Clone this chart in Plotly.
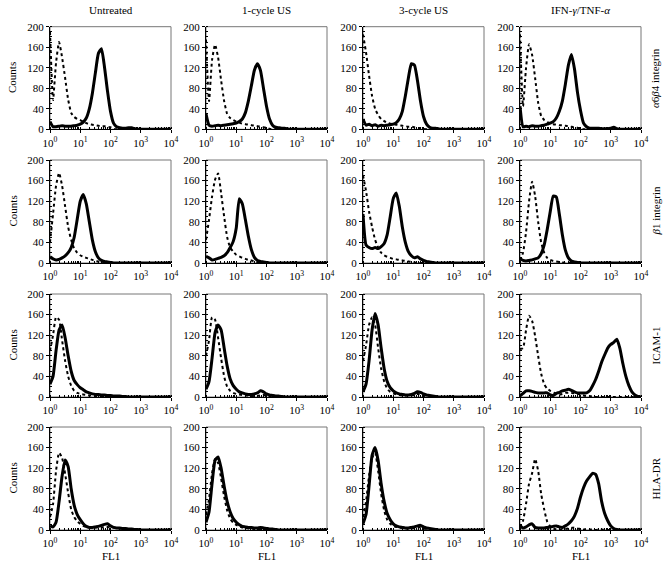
import plotly.graph_objects as go

# FL1 channel bins, as log10 of fluorescence (0 .. 4 decades)
CHANNEL_LOG10 = [0.0, 0.1, 0.2, 0.3, 0.4, 0.5, 0.6, 0.7, 0.8, 0.9,
                 1.0, 1.1, 1.2, 1.3, 1.4, 1.5, 1.6, 1.7, 1.8, 1.9,
                 2.0, 2.1, 2.2, 2.3, 2.4, 2.5, 2.6, 2.7, 2.8, 2.9,
                 3.0, 3.1, 3.2, 3.3, 3.4, 3.5, 3.6, 3.7, 3.8, 3.9, 4.0]

TREATMENTS = ["Untreated", "1-cycle US", "3-cycle US", "IFN-<i>γ</i>/TNF-<i>α</i>"]
MARKERS = ["<i>α</i>6<i>β</i>4 integrin", "<i>β</i>1 integrin", "ICAM-1", "HLA-DR"]
Y_TICKS = [0, 40, 80, 120, 160, 200]
X_TICK_LABELS = ["10<sup>0</sup>", "10<sup>1</sup>", "10<sup>2</sup>", "10<sup>3</sup>", "10<sup>4</sup>"]

# ---- row 1: a6b4 integrin ----
a6b4_untreated_control = [190, 57, 130, 170, 140, 100, 58, 32, 24, 20, 18, 15, 12, 10, 9, 8, 7, 6, 6, 5, 4, 1,
                          0, 0, 0, 0, 0, 0, 0, 0, 0, 0, 0, 0, 0, 0, 0, 0, 0, 0, 0]
a6b4_untreated_stain = [15, 5, 5, 6, 7, 6, 6, 6, 7, 8, 10, 14, 22, 40, 70, 110, 148, 157, 122, 75, 35, 12, 5, 3, 2, 2, 3, 3, 1,
                        0, 0, 0, 0, 0, 0, 0, 0, 0, 0, 0, 0]
a6b4_us1_control = [175, 55, 135, 165, 140, 95, 55, 30, 22, 18, 15, 13, 11, 10, 9, 8, 7, 6, 5, 4, 3, 1,
                    0, 0, 0, 0, 0, 0, 0, 0, 0, 0, 0, 0, 0, 0, 0, 0, 0, 0, 0]
a6b4_us1_stain = [30, 8, 6, 7, 8, 7, 8, 9, 10, 11, 12, 15, 20, 32, 55, 85, 115, 128, 115, 80, 45, 20, 8, 4, 3, 2, 2, 1,
                  0, 0, 0, 0, 0, 0, 0, 0, 0, 0, 0, 0, 0]
a6b4_us3_control = [185, 150, 105, 65, 40, 28, 20, 16, 13, 11, 10, 9, 8, 7, 6, 5, 5, 4, 3, 2, 1,
                    0, 0, 0, 0, 0, 0, 0, 0, 0, 0, 0, 0, 0, 0, 0, 0, 0, 0, 0, 0]
a6b4_us3_stain = [20, 8, 10, 7, 9, 6, 8, 7, 8, 9, 10, 13, 20, 35, 65, 100, 128, 125, 95, 55, 25, 10, 4, 2, 2, 1,
                  0, 0, 0, 0, 0, 0, 0, 0, 0, 0, 0, 0, 0, 0, 0]
a6b4_ifn_control = [185, 45, 120, 166, 145, 100, 52, 26, 18, 14, 12, 10, 9, 8, 8, 7, 6, 5, 4, 3, 2,
                    0, 0, 0, 0, 0, 0, 0, 0, 0, 0, 0, 0, 0, 0, 0, 0, 0, 0, 0, 0]
a6b4_ifn_stain = [45, 5, 6, 5, 7, 6, 6, 7, 8, 10, 12, 15, 22, 35, 55, 88, 125, 146, 118, 72, 37, 12, 5, 2, 2, 2, 2, 1, 1, 1,
                  2, 4, 1, 0, 0, 0, 0, 0, 0, 0, 0]

# ---- row 2: b1 integrin ----
b1_untreated_control = [40, 95, 150, 175, 150, 110, 70, 45, 28, 20, 15, 12, 10, 8, 6, 4, 3, 1,
                        0, 0, 0, 0, 0, 0, 0, 0, 0, 0, 0, 0, 0, 0, 0, 0, 0, 0, 0, 0, 0, 0, 0]
b1_untreated_stain = [12, 8, 6, 7, 10, 14, 20, 30, 50, 85, 120, 133, 115, 80, 45, 22, 10, 5, 3, 2, 1,
                      0, 0, 0, 0, 0, 0, 0, 0, 0, 0, 0, 0, 0, 0, 0, 0, 0, 0, 0, 0]
b1_us1_control = [45, 84, 129, 162, 174, 135, 90, 50, 30, 22, 16, 13, 10, 8, 6, 5, 3, 1,
                  0, 0, 0, 0, 0, 0, 0, 0, 0, 0, 0, 0, 0, 0, 0, 0, 0, 0, 0, 0, 0, 0, 0]
b1_us1_stain = [13, 10, 6, 7, 9, 11, 14, 20, 30, 42, 68, 125, 115, 85, 52, 26, 11, 5, 3, 2, 1,
                0, 0, 0, 0, 0, 0, 0, 0, 0, 0, 0, 0, 0, 0, 0, 0, 0, 0, 0, 0]
b1_us3_control = [170, 140, 100, 70, 45, 30, 20, 15, 12, 10, 8, 7, 6, 5, 4, 3, 2, 1,
                  0, 0, 0, 0, 0, 0, 0, 0, 0, 0, 0, 0, 0, 0, 0, 0, 0, 0, 0, 0, 0, 0, 0]
b1_us3_stain = [95, 35, 30, 28, 30, 28, 32, 38, 55, 90, 125, 136, 110, 70, 40, 22, 14, 10, 12, 8, 5, 3, 2, 1,
                0, 0, 0, 0, 0, 0, 0, 0, 0, 0, 0, 0, 0, 0, 0, 0, 0]
b1_ifn_control = [5, 20, 60, 120, 158, 130, 80, 40, 20, 10, 6, 4, 3, 2, 1,
                  0, 0, 0, 0, 0, 0, 0, 0, 0, 0, 0, 0, 0, 0, 0, 0, 0, 0, 0, 0, 0, 0, 0, 0, 0, 0]
b1_ifn_stain = [8, 5, 4, 5, 6, 8, 10, 18, 35, 65, 100, 130, 128, 95, 55, 25, 10, 4, 2, 1,
                0, 0, 0, 0, 0, 0, 0, 0, 0, 0, 0, 0, 0, 0, 0, 0, 0, 0, 0, 0, 0]

# ---- row 3: ICAM-1 ----
icam_untreated_control = [90, 120, 155, 150, 110, 70, 40, 22, 12, 8, 6, 5, 4, 3, 3, 2, 2, 1,
                          0, 0, 0, 0, 0, 0, 0, 0, 0, 0, 0, 0, 0, 0, 0, 0, 0, 0, 0, 0, 0, 0, 0]
icam_untreated_stain = [25, 40, 90, 130, 140, 115, 80, 50, 32, 24, 18, 14, 10, 8, 6, 5, 5, 4, 4, 3, 3, 2, 2, 2, 1, 1,
                        0, 0, 0, 0, 0, 0, 0, 0, 0, 0, 0, 0, 0, 0, 0]
icam_us1_control = [80, 110, 155, 150, 115, 75, 40, 20, 12, 8, 6, 5, 4, 3, 3, 2, 2, 2, 3, 4, 3, 1,
                    0, 0, 0, 0, 0, 0, 0, 0, 0, 0, 0, 0, 0, 0, 0, 0, 0, 0, 0]
icam_us1_stain = [15, 30, 75, 125, 140, 130, 95, 60, 35, 22, 15, 10, 8, 6, 5, 5, 6, 8, 12, 10, 6, 4, 3, 2, 2, 1,
                  0, 0, 0, 0, 0, 0, 0, 0, 0, 0, 0, 0, 0, 0, 0]
icam_us3_control = [70, 100, 140, 155, 140, 95, 55, 30, 16, 10, 7, 5, 4, 3, 3, 3, 3, 4, 6, 5, 3, 1,
                    0, 0, 0, 0, 0, 0, 0, 0, 0, 0, 0, 0, 0, 0, 0, 0, 0, 0, 0]
icam_us3_stain = [10, 25, 70, 130, 162, 140, 95, 55, 30, 18, 12, 8, 6, 5, 4, 4, 5, 7, 10, 9, 6, 4, 3, 2, 1,
                  0, 0, 0, 0, 0, 0, 0, 0, 0, 0, 0, 0, 0, 0, 0, 0]
icam_ifn_control = [93, 95, 130, 158, 148, 118, 80, 45, 25, 16, 12, 9, 6, 5, 6, 8, 8, 8, 7, 6, 5, 3, 2, 2, 1,
                    0, 0, 0, 0, 0, 0, 0, 0, 0, 0, 0, 0, 0, 0, 0, 0]
icam_ifn_stain = [2, 7, 12, 12, 11, 9, 8, 8, 8, 8, 4, 3, 7, 9, 12, 13, 15, 13, 10, 8, 8, 8, 8, 12, 22, 34, 50, 68, 82, 95,
                  102, 106, 112, 95, 65, 40, 22, 10, 4, 1, 0]

# ---- row 4: HLA-DR ----
hla_untreated_control = [25, 50, 115, 150, 140, 109, 72, 40, 25, 17, 12, 8, 6, 5, 5, 5, 5, 5, 6, 6, 5, 5, 4, 3, 3, 2, 2, 1, 1,
                         0, 0, 0, 0, 0, 0, 0, 0, 0, 0, 0, 0]
hla_untreated_stain = [8, 6, 15, 55, 105, 136, 123, 80, 48, 30, 20, 12, 7, 5, 5, 6, 7, 9, 11, 12, 8, 5, 4, 4, 3, 3, 2, 2, 1, 1,
                       0, 0, 0, 0, 0, 0, 0, 0, 0, 0, 0]
hla_us1_control = [30, 60, 110, 138, 130, 100, 65, 38, 22, 14, 10, 7, 5, 4, 3, 3, 2, 2, 2, 1,
                   0, 0, 0, 0, 0, 0, 0, 0, 0, 0, 0, 0, 0, 0, 0, 0, 0, 0, 0, 0, 0]
hla_us1_stain = [15, 35, 90, 135, 142, 120, 85, 55, 35, 22, 15, 10, 7, 6, 5, 5, 4, 4, 5, 4, 3, 2, 2, 1,
                 0, 0, 0, 0, 0, 0, 0, 0, 0, 0, 0, 0, 0, 0, 0, 0, 0]
hla_us3_control = [25, 55, 105, 140, 150, 115, 70, 38, 20, 12, 8, 6, 5, 4, 3, 3, 3, 4, 5, 5, 3, 2, 1,
                   0, 0, 0, 0, 0, 0, 0, 0, 0, 0, 0, 0, 0, 0, 0, 0, 0, 0]
hla_us3_stain = [12, 30, 85, 145, 160, 135, 90, 55, 32, 20, 12, 8, 6, 5, 4, 4, 5, 6, 8, 9, 6, 4, 3, 2, 1,
                 0, 0, 0, 0, 0, 0, 0, 0, 0, 0, 0, 0, 0, 0, 0, 0]
hla_ifn_control = [5, 18, 51, 90, 110, 138, 115, 70, 40, 16, 7, 3, 1, 0, 1, 2, 3, 4, 5, 3, 2, 1, 2, 1, 1, 0, 1, 1,
                   0, 0, 0, 0, 0, 0, 0, 0, 0, 0, 0, 0, 0]
hla_ifn_stain = [8, 4, 6, 10, 12, 5, 4, 4, 4, 5, 6, 7, 8, 6, 5, 8, 12, 18, 27, 42, 64, 82, 95, 103, 110, 108, 90, 55, 32, 18,
                 8, 3, 1, 0, 0, 0, 0, 0, 0, 0, 0]

CONTROL = [
    [a6b4_untreated_control, a6b4_us1_control, a6b4_us3_control, a6b4_ifn_control],
    [b1_untreated_control, b1_us1_control, b1_us3_control, b1_ifn_control],
    [icam_untreated_control, icam_us1_control, icam_us3_control, icam_ifn_control],
    [hla_untreated_control, hla_us1_control, hla_us3_control, hla_ifn_control],
]
STAIN = [
    [a6b4_untreated_stain, a6b4_us1_stain, a6b4_us3_stain, a6b4_ifn_stain],
    [b1_untreated_stain, b1_us1_stain, b1_us3_stain, b1_ifn_stain],
    [icam_untreated_stain, icam_us1_stain, icam_us3_stain, icam_ifn_stain],
    [hla_untreated_stain, hla_us1_stain, hla_us3_stain, hla_ifn_stain],
]

# ---- layout geometry (pixels) ----
W, H = 668, 568
COL_PX = [(50, 171), (206, 327), (363, 484), (520, 641)]
ROW_PX = [(26.7, 129.3), (160, 263), (294, 397), (427, 530)]
FONT = "Liberation Serif"

def px_x(p):
    return p / W

def px_y(p):
    return 1 - p / H

fl1 = [10 ** v for v in CHANNEL_LOG10]

fig = go.Figure()
layout = dict(width=W, height=H, margin=dict(l=0, r=0, t=0, b=0, pad=0, autoexpand=False),
              paper_bgcolor="white", plot_bgcolor="white", showlegend=False, hovermode=False,
              font=dict(family=FONT, size=11, color="black"))
shapes = []
annotations = []

for r in range(4):
    for c in range(4):
        k = r * 4 + c + 1
        xa = "x" if k == 1 else f"x{k}"
        ya = "y" if k == 1 else f"y{k}"
        fig.add_trace(go.Scatter(x=fl1, y=CONTROL[r][c], mode="lines", xaxis=xa, yaxis=ya,
                                 line=dict(color="black", width=2, dash="dot", shape="spline", smoothing=0.5)))
        fig.add_trace(go.Scatter(x=fl1, y=STAIN[r][c], mode="lines", xaxis=xa, yaxis=ya,
                                 line=dict(color="black", width=3, shape="spline", smoothing=0.5)))
        x0, x1 = COL_PX[c]
        y0, y1 = ROW_PX[r]
        layout["xaxis" if k == 1 else f"xaxis{k}"] = dict(
            domain=[px_x(x0), px_x(x1)], anchor=ya, type="log", range=[0, 4], automargin=False,
            tickvals=[1, 10, 100, 1000, 10000], ticktext=X_TICK_LABELS,
            ticks="outside", ticklen=3, tickcolor="black",
            minor=dict(ticks="inside", ticklen=2, dtick="D1", tickcolor="black"),
            showline=True, linecolor="black", linewidth=1, showgrid=False, zeroline=False,
            tickfont=dict(family=FONT, size=11, color="black"))
        layout["yaxis" if k == 1 else f"yaxis{k}"] = dict(
            domain=[px_y(y1), px_y(y0)], anchor=xa, range=[0, 200], automargin=False,
            tickvals=Y_TICKS, ticks="outside", ticklen=3, tickcolor="black",
            minor=dict(ticks="inside", ticklen=2, dtick=10, tickcolor="black"),
            showline=True, linecolor="black", linewidth=1, showgrid=False, zeroline=False,
            tickfont=dict(family=FONT, size=11, color="black"))
        shapes.append(dict(type="rect", xref=f"{xa} domain", yref=f"{ya} domain",
                           x0=0, x1=1, y0=0, y1=1, line=dict(color="#777777", width=1), layer="below"))

for c in range(4):
    x0, x1 = COL_PX[c]
    annotations.append(dict(text=TREATMENTS[c], x=px_x((x0 + x1) / 2), y=px_y(10), xref="paper", yref="paper",
                            showarrow=False, font=dict(family=FONT, size=11, color="black"),
                            xanchor="center", yanchor="middle"))
    annotations.append(dict(text="FL1", x=px_x((x0 + x1) / 2), y=px_y(556), xref="paper", yref="paper",
                            showarrow=False, font=dict(family=FONT, size=11, color="black"),
                            xanchor="center", yanchor="middle"))
for r in range(4):
    y0, y1 = ROW_PX[r]
    annotations.append(dict(text="Counts", x=px_x(12), y=px_y((y0 + y1) / 2), xref="paper", yref="paper",
                            textangle=-90, showarrow=False, font=dict(family=FONT, size=11, color="black"),
                            xanchor="center", yanchor="middle"))
    annotations.append(dict(text=MARKERS[r], x=px_x(655), y=px_y((y0 + y1) / 2), xref="paper", yref="paper",
                            textangle=-90, showarrow=False, font=dict(family=FONT, size=11, color="black"),
                            xanchor="center", yanchor="middle"))

layout["shapes"] = shapes
layout["annotations"] = annotations
fig.update_layout(**layout)
fig.write_html("out.html", config={"displayModeBar": False, "staticPlot": True},
               post_script="document.body.style.margin='0px';document.body.style.padding='0px';"
                           "document.body.style.overflow='hidden';")
